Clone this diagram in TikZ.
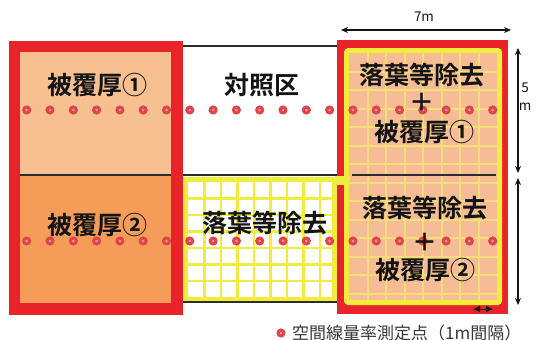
\documentclass[tikz,border=0pt]{standalone}
\usepackage{fontspec}
\newfontfamily\jp{Noto Sans CJK JP}[BoldFont={Noto Sans CJK JP Bold}]
\usetikzlibrary{arrows.meta}
\definecolor{cred}{RGB}{232,35,42}
\definecolor{cyel}{RGB}{242,236,60}
\definecolor{lpeach}{RGB}{246,192,145}
\definecolor{corange}{RGB}{245,157,88}
\definecolor{gpeach}{RGB}{245,188,150}
\definecolor{gyel}{RGB}{243,222,120}
\definecolor{dotred}{RGB}{222,68,74}
\definecolor{dotin}{RGB}{240,150,150}
\definecolor{ink}{RGB}{20,20,20}
\tikzset{
  big/.style={font=\jp\bfseries\fontsize{25}{27}\selectfont, text=ink, inner sep=0pt},
  small/.style={font=\jp\fontsize{17}{19}\selectfont, text=ink!85, inner sep=0pt},
  dim/.style={font=\jp\fontsize{13.5}{15}\selectfont, text=ink, inner sep=0pt},
  dimline/.style={draw=ink, line width=1.1pt, {Stealth[length=7pt,width=6pt]}-{Stealth[length=7pt,width=6pt]}},
  thin/.style={draw=ink!90, line width=1.3pt},
  gline/.style={draw=cyel, line width=2.6pt},
  rgline/.style={draw=gyel, line width=2pt},
}
\begin{document}
\begin{tikzpicture}[x=1pt,y=-1pt]
\useasboundingbox[fill=white] (0,0) rectangle (536,340);
% ---- left column
\fill[cred] (9,41) rectangle (183,315);
\fill[lpeach] (20,52) rectangle (171,175);
\fill[corange] (20,175) rectangle (171,303);
\draw[thin] (20,175) -- (171,175);
% ---- control plot lines
\draw[thin] (183,46) -- (337,46);
\draw[thin] (183,175) -- (337,175);
% ---- middle lower (yellow grid, white cells)
\fill[cyel] (183,177) rectangle (337,301);
\fill[white] (188,182) rectangle (332,297);
\foreach \i in {1,...,8} \draw[gline] (188+16.5*\i,182) -- (188+16.5*\i,297);
\foreach \j in {1,...,6} \draw[gline] (188,182+16.5*\j) -- (332,182+16.5*\j);
\draw[thin] (183,302) -- (337,302);
% ---- right column
\fill[cred] (337,40) rectangle (508,314);
\fill[cyel, rounded corners=4pt] (344,48) rectangle (502,305);
\fill[gpeach] (349,53) rectangle (497,300);
\foreach \i in {1,...,7} \draw[rgline] (349+18.5*\i,53) -- (349+18.5*\i,300);
\foreach \j in {1,...,13} \draw[rgline] (349,53+18.5*\j) -- (497,53+18.5*\j);
\fill[cyel] (335,176) rectangle (350,185);
\draw[thin] (352,175) -- (496,175);
% ---- measuring points
\foreach \k in {0,...,20} {
  \fill[dotred] (26.7+23.3*\k,110) circle (4.6);
  \fill[dotin] (26.7+23.3*\k,110) circle (1.5);
  \fill[dotred] (26.7+23.3*\k,241) circle (4.6);
  \fill[dotin] (26.7+23.3*\k,241) circle (1.5);
}
% ---- labels
\node[big] (a) at (97,85) {被覆厚①};
\node[big] (b) at (262,85) {対照区};
\node[big] (c) at (422,75) {落葉等除去};
\node[big] (cp) at (422,102) {＋};
\node[big] (c2) at (424,132) {被覆厚①};
\node[big] (d) at (97,225) {被覆厚②};
\node[big] (e) at (265,223) {落葉等除去};
\node[big] (f) at (425,208) {落葉等除去};
\node[big] (fp) at (425,242) {＋};
\node[big] (f2) at (425,270) {被覆厚②};
% ---- dimensions
\coordinate (w1) at (341,30); \coordinate (w2) at (511,30);
\draw[dimline] (w1) -- (w2);
\node[dim] (wl) at (424,17) {7m};
\coordinate (h1) at (518,48); \coordinate (h2) at (518,173);
\coordinate (h3) at (518,178); \coordinate (h4) at (518,305);
\draw[dimline] (h1) -- (h2);
\draw[dimline] (h3) -- (h4);
\node[dim] (hl1) at (525,88) {5};
\node[dim] (hl2) at (525,107) {m};
\coordinate (s1) at (473,309); \coordinate (s2) at (493,309);
\draw[draw=ink, line width=1pt, {Latex[length=7pt,width=7pt]}-{Latex[length=7pt,width=7pt]}] (s1) -- (s2);
% ---- legend
\fill[dotred] (281,333) circle (4.6);
\fill[dotin] (281,333) circle (1.5);
\node[small, anchor=west] (lg) at (292,333) {空間線量率測定点（1m間隔）};
\end{tikzpicture}
\end{document}
